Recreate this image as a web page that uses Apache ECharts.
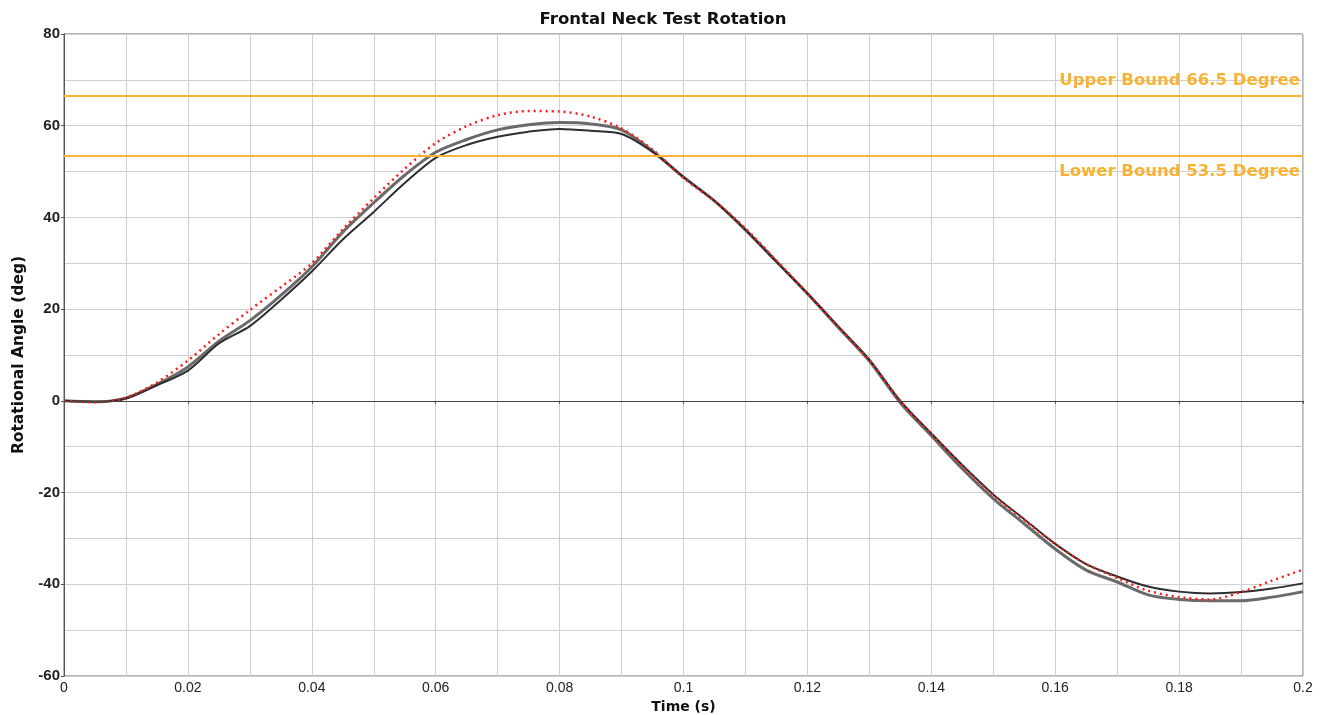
<!DOCTYPE html>
<html>
<head>
<meta charset="utf-8">
<script src="https://cdn.jsdelivr.net/npm/echarts@6/dist/echarts.min.js"></script>
<style>html,body{margin:0;padding:0;background:#fff}#c{width:1326px;height:715px}</style>
</head>
<body>
<div id="c"></div>
<script>
const times = [0,0.005,0.01,0.015,0.02,0.025,0.03,0.035,0.04,0.045,0.05,0.055,0.06,0.065,0.07,0.075,0.08,0.085,0.09,0.095,0.1,0.105,0.11,0.115,0.12,0.125,0.13,0.135,0.14,0.145,0.15,0.155,0.16,0.165,0.17,0.175,0.18,0.185,0.19,0.195,0.2];
const targetCurve = [0,-0.3,0.7,4.0,8.8,14.5,19.8,24.8,30.0,37.4,44.2,50.6,56.2,59.9,62.3,63.2,63.1,62.0,59.4,54.8,48.6,43.6,37.6,30.6,23.5,16.2,8.9,0.0,-7.2,-14.2,-20.6,-26.0,-31.2,-35.6,-38.6,-41.4,-42.8,-43.3,-41.7,-39.2,-36.8];
const testA = [0,-0.2,0.6,3.6,7.4,13.0,17.5,23.0,29.2,36.8,43.2,49.2,54.2,57.0,59.1,60.2,60.7,60.4,59.1,54.5,48.8,43.6,37.3,30.4,23.4,16.0,8.7,-0.4,-7.6,-14.8,-21.3,-26.8,-32.3,-36.9,-39.5,-42.3,-43.3,-43.6,-43.6,-42.8,-41.6];
const testB = [0,-0.2,0.5,3.4,6.6,12.5,16.3,22.0,28.2,35.2,41.2,47.5,53.0,55.8,57.6,58.7,59.3,58.9,58.2,54.3,48.8,43.6,37.3,30.3,23.4,16.2,9.0,0.0,-7.1,-14.0,-20.4,-25.8,-31.2,-35.6,-38.3,-40.5,-41.6,-42.0,-41.7,-40.9,-39.8];
const upperBound = 66.5;
const lowerBound = 53.5;
const titleText = 'Frontal Neck Test Rotation';

const pairs = arr => times.map((t, i) => [t, arr[i]]);
const orange = '#F9B233';
const font = 'Arial, "Liberation Sans", sans-serif';
const wide = '"DejaVu Sans", Verdana, sans-serif';

const chart = echarts.init(document.getElementById('c'));
chart.setOption({
  animation: false,
  title: { text: titleText, left: 'center', top: 6, textStyle: { fontFamily: wide, fontSize: 16.5, fontWeight: 'bold', color: '#111' } },
  grid: { left: 64, right: 23, top: 34, bottom: 39, show: true, borderColor: '#666', borderWidth: 1, outerBoundsMode: 'none', containLabel: false },
  xAxis: {
    type: 'value', min: 0, max: 0.2, interval: 0.02,
    name: 'Time (s)', nameLocation: 'middle', nameGap: 22,
    nameTextStyle: { fontFamily: wide, fontSize: 14, fontWeight: 'bold', color: '#111' },
    axisLine: { show: true, lineStyle: { color: '#555' } },
    axisTick: { show: true, length: 3, lineStyle: { color: '#555' } },
    axisLabel: { fontFamily: font, fontSize: 14, color: '#222', margin: 5, formatter: v => String(+v.toFixed(2)) },
    splitLine: { show: true, lineStyle: { color: '#cfcfcf', width: 1 } },
    minorTick: { show: false, splitNumber: 2 },
    minorSplitLine: { show: true, lineStyle: { color: '#cfcfcf', width: 1 } }
  },
  yAxis: {
    type: 'value', min: -60, max: 80, interval: 20,
    name: 'Rotational Angle (deg)', nameLocation: 'middle', nameGap: 36,
    nameTextStyle: { fontFamily: wide, fontSize: 15.5, fontWeight: 'bold', color: '#111' },
    axisLine: { show: true, onZero: false, lineStyle: { color: '#555' } },
    axisTick: { show: true, length: 3, lineStyle: { color: '#555' } },
    axisLabel: { fontFamily: font, fontSize: 15, fontWeight: 'bold', color: '#222', margin: 4 },
    splitLine: { show: true, lineStyle: { color: '#cfcfcf', width: 1 } },
    minorTick: { show: false, splitNumber: 2 },
    minorSplitLine: { show: true, lineStyle: { color: '#cfcfcf', width: 1 } }
  },
  series: [
    {
      name: 'Test A', type: 'line', data: pairs(testA), showSymbol: false, smooth: 0.3,
      lineStyle: { color: '#6a6a6a', width: 3 }, z: 2,
      markLine: {
        silent: true, symbol: 'none', animation: false,
        data: [
          { yAxis: 0, lineStyle: { color: '#444', width: 1, type: 'solid' }, label: { show: false } },
          { yAxis: upperBound, lineStyle: { color: orange, width: 2, type: 'solid' },
            label: { show: true, position: 'insideEndTop', formatter: 'Upper Bound ' + upperBound + ' Degree', color: orange, fontFamily: wide, fontSize: 16.5, fontWeight: 'bold', distance: [3, 7] } },
          { yAxis: lowerBound, lineStyle: { color: orange, width: 2, type: 'solid' },
            label: { show: true, position: 'insideEndBottom', formatter: 'Lower Bound ' + lowerBound + ' Degree', color: orange, fontFamily: wide, fontSize: 16.5, fontWeight: 'bold', distance: [3, 8] } }
        ]
      }
    },
    {
      name: 'Test B', type: 'line', data: pairs(testB), showSymbol: false, smooth: 0.3,
      lineStyle: { color: '#2e2e2e', width: 2 }, z: 3
    },
    {
      name: 'Target', type: 'line', data: pairs(targetCurve), showSymbol: false, smooth: 0.3,
      lineStyle: { color: '#ff1a1a', width: 2.5, type: [2, 4] }, z: 4
    }
  ]
});
</script>
</body>
</html>
